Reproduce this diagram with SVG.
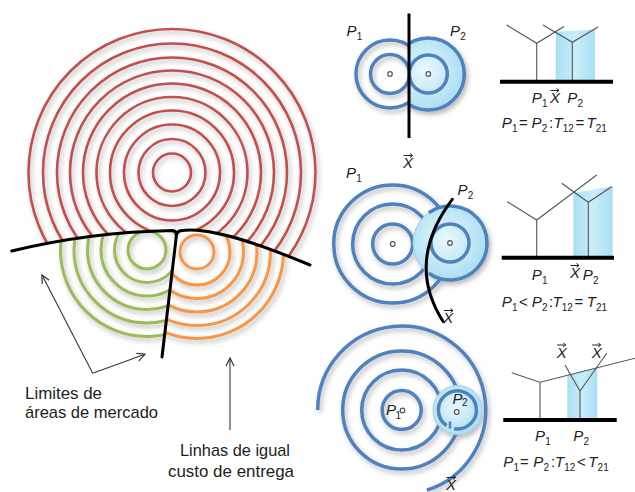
<svg xmlns="http://www.w3.org/2000/svg" width="635" height="492" viewBox="0 0 635 492">
<style>
.red{fill:none;stroke:#c0504d;stroke-width:2.6}
.grn{fill:none;stroke:#9bbb59;stroke-width:3}
.org{fill:none;stroke:#f79646;stroke-width:3}
.blu{fill:none;stroke:#4f81bd;stroke-width:3.5}
.bnd{fill:none;stroke:#000;stroke-width:3;stroke-linecap:round}
.thin{fill:none;stroke:#555;stroke-width:1.1}
.axis{stroke:#000;stroke-width:4}
.dot{fill:#fff;stroke:#555;stroke-width:1.2}
.lbl{font-family:"Liberation Sans",Arial,sans-serif;font-size:17px;fill:#222}
.m{font-family:"Liberation Sans",Arial,sans-serif;font-size:15px;font-style:italic;fill:#222}
.s{font-size:10px;font-style:normal}
.o{font-style:normal}
.xa{fill:none;stroke:#222;stroke-width:1}
.bfill{fill:url(#bandGrad)}
.conn{fill:none;stroke:#333;stroke-width:1.1}
</style>
<defs>
<filter id="sh" x="-20%" y="-20%" width="140%" height="140%">
<feDropShadow dx="2" dy="3" stdDeviation="2.5" flood-color="#000" flood-opacity="0.28"/>
</filter>
<radialGradient id="p2Grad" cx="0.45" cy="0.45" r="0.6">
<stop offset="0" stop-color="#eaf8fd"/>
<stop offset="1" stop-color="#a6dcf1"/>
</radialGradient>
<linearGradient id="bandGrad" x1="0" y1="0" x2="1" y2="0">
<stop offset="0" stop-color="#a9def3"/>
<stop offset="0.5" stop-color="#c9eefa"/>
<stop offset="1" stop-color="#a9def3"/>
</linearGradient>
<clipPath id="clipRed"><path d="M0,0 H330 V272 L310,265 C250,240 205,226 180,230.8 L173,230.5 Q90,232 11.7,251 L0,253 Z"/></clipPath>
<clipPath id="clipGreen"><path d="M0,251 L11.7,251 Q90,232 173,230.5 L176.5,232 L162,357 L160,500 L0,500 Z"/></clipPath>
<clipPath id="clipOrange"><path d="M176.5,232 L180,230.8 C205,226 250,240 310,265 L330,272 L330,500 L162,500 L162,357 Z"/></clipPath>
<clipPath id="clipL1"><rect x="300" y="0" width="109" height="150"/></clipPath>
<clipPath id="clipR1"><rect x="409" y="0" width="80" height="150"/></clipPath>
<marker id="open" viewBox="0 0 10 10" refX="9" refY="5" markerWidth="10" markerHeight="10" markerUnits="userSpaceOnUse" orient="auto">
<path d="M1,1 L9,5 L1,9" fill="none" stroke="#333" stroke-width="1.2"/>
</marker>
</defs>
<rect width="635" height="492" fill="#ffffff"/>

<!-- Left: market areas -->
<g id="red-area" clip-path="url(#clipRed)"><g filter="url(#sh)">
<circle class="red" cx="172" cy="172.5" r="19"/>
<circle class="red" cx="172" cy="172.5" r="33.5"/>
<circle class="red" cx="172" cy="172.5" r="48"/>
<circle class="red" cx="172" cy="172.5" r="62"/>
<circle class="red" cx="172" cy="172.5" r="75.5"/>
<circle class="red" cx="172" cy="172.5" r="89"/>
<circle class="red" cx="172" cy="172.5" r="102"/>
<circle class="red" cx="172" cy="172.5" r="115"/>
<circle class="red" cx="172" cy="172.5" r="129"/>
<circle class="red" cx="172" cy="172.5" r="143.5"/>
</g></g>
<g id="green-area" clip-path="url(#clipGreen)"><g filter="url(#sh)">
<circle class="grn" cx="147" cy="250" r="19"/>
<circle class="grn" cx="147" cy="250" r="32.5"/>
<circle class="grn" cx="147" cy="250" r="46"/>
<circle class="grn" cx="147" cy="250" r="59.5"/>
<circle class="grn" cx="147" cy="250" r="73"/>
<circle class="grn" cx="147" cy="250" r="86.5"/>
</g></g>
<g id="orange-area" clip-path="url(#clipOrange)"><g filter="url(#sh)">
<circle class="org" cx="197" cy="252" r="17"/>
<circle class="org" cx="197" cy="252" r="33"/>
<circle class="org" cx="197" cy="252" r="46.5"/>
<circle class="org" cx="197" cy="252" r="60"/>
<circle class="org" cx="197" cy="252" r="73.5"/>
<circle class="org" cx="197" cy="252" r="86.5"/>
</g></g>
<g id="boundaries">
<path class="bnd" d="M11.7,251 Q90,232 173,230.5 Q176.5,231 176.5,235 L162,357"/>
<path class="bnd" d="M310,265 C250,240 205,226 180.5,230.8 Q177.5,231.5 177,234"/>
</g>

<g id="connectors">
<path class="conn" d="M92.7,373.3 L42,275" marker-end="url(#open)"/>
<path class="conn" d="M92.7,373.3 L145,354.3" marker-end="url(#open)"/>
<path class="conn" d="M230,430 L230,358" marker-end="url(#open)"/>
</g>

<g id="label-limites">
<text class="lbl" x="25" y="399" textLength="77" lengthAdjust="spacingAndGlyphs">Limites de</text>
<text class="lbl" x="25" y="418" textLength="133" lengthAdjust="spacingAndGlyphs">áreas de mercado</text>
</g>
<g id="label-linhas">
<text class="lbl" x="180" y="456" textLength="110" lengthAdjust="spacingAndGlyphs">Linhas de igual</text>
<text class="lbl" x="168" y="477" textLength="126" lengthAdjust="spacingAndGlyphs">custo de entrega</text>
</g>

<!-- Panel 1 -->
<g id="panel1">
<g clip-path="url(#clipL1)"><g filter="url(#sh)">
<circle class="blu" cx="390" cy="74" r="34"/>
<circle class="blu" cx="390" cy="74" r="19.5"/>
</g></g>
<g clip-path="url(#clipR1)"><g filter="url(#sh)">
<circle cx="428.3" cy="74" r="36" fill="url(#p2Grad)" stroke="#4f81bd" stroke-width="3.5"/>
<circle class="blu" cx="428.3" cy="74" r="19"/>
</g></g>
<line x1="409" y1="13.5" x2="409" y2="138" stroke="#000" stroke-width="3"/>
<circle class="dot" cx="390" cy="74" r="2.3"/>
<circle class="dot" cx="428.3" cy="74" r="2.3"/>
<text class="m" x="346.5" y="36">P<tspan class="s" x="356.8" y="40">1</tspan></text>
<text class="m" x="450" y="36">P<tspan class="s" x="460.3" y="40">2</tspan></text>
</g>

<!-- Panel 2 -->
<g id="panel2">
<g filter="url(#sh)">
<circle class="blu" cx="392.7" cy="244" r="59"/>
<circle class="blu" cx="392.7" cy="244" r="40"/>
<circle class="blu" cx="392.7" cy="244" r="20"/>
<circle cx="450" cy="243" r="37" fill="url(#p2Grad)" stroke="#9fcfe6" stroke-width="1"/>
<path class="blu" d="M428.8,212.7 A37,37 0 1 1 428.8,273.3"/>
<circle class="blu" cx="450" cy="243" r="19"/>
</g>
<path class="bnd" d="M452.3,199.3 Q405,262 443.3,321.7" stroke-width="3.5"/>
<circle class="dot" cx="392.7" cy="244" r="2.3"/>
<circle class="dot" cx="450" cy="243" r="2.3"/>
<text class="m" x="346" y="178">P<tspan class="s" x="356.3" y="182">1</tspan></text>
<text class="m" x="457.5" y="195">P<tspan class="s" x="467.8" y="199">2</tspan></text>
<text class="m" x="403" y="168" font-size="14">X</text>
<path class="xa" d="M403.5,155.5 h9 m-2.5,-2 l2.5,2 l-2.5,2"/>
<text class="m" x="443.3" y="323" font-size="14">X</text>
<path class="xa" d="M444,310.5 h9 m-2.5,-2 l2.5,2 l-2.5,2"/>
</g>

<!-- Panel 3 -->
<g id="panel3">
<g filter="url(#sh)">
<path class="blu" d="M317.7,410 A84,84 0 1 1 426.8,490.2"/>
<circle class="blu" cx="401.7" cy="410" r="59"/>
<circle class="blu" cx="401.7" cy="410" r="40"/>
<circle class="blu" cx="401.7" cy="410" r="19.5"/>
<circle cx="457.5" cy="410" r="24.5" fill="url(#p2Grad)" stroke="#9fcfe6" stroke-width="1"/>
<path class="blu" d="M446.6,425.6 A19,19 0 1 1 454.2,428.7" stroke-width="3"/>
<path d="M450,421.5 L450,428.5" stroke="#4f81bd" stroke-width="2.5"/>
</g>
<circle class="dot" cx="402.5" cy="410.5" r="2.3"/>
<circle class="dot" cx="456.7" cy="412" r="2.3"/>
<text class="m" x="386" y="415" font-size="14">P<tspan class="s" x="395.6" y="418.5" font-size="9">1</tspan></text>
<text class="m" x="452.5" y="404" font-size="14">P<tspan class="s" x="462.1" y="406" font-size="9">2</tspan></text>
<text class="m" x="446" y="490" font-size="14">X</text>
<path class="xa" d="M446.5,477.5 h9 m-2.5,-2 l2.5,2 l-2.5,2"/>
</g>

<!-- Chart 1 -->
<g id="chart1">
<polygon class="bfill" points="555.7,81.7 555.7,31.7 595,29.5 595,81.7"/>
<path class="thin" d="M536.7,81.7 V43.3 M506.7,25 L536.7,43.3 L564,26.5"/>
<path class="thin" d="M572.3,81.7 V42.3 M543,25 L572.3,42.3 L598,27"/>
<line class="axis" x1="500" y1="81.7" x2="613" y2="81.7"/>
<text class="m" x="531.7" y="103">P<tspan class="s" x="542" y="106.5">1</tspan></text>
<text class="m" x="550" y="103" font-size="14">X</text>
<path class="xa" d="M550.5,90.5 h8.5 m-2.5,-2 l2.5,2 l-2.5,2"/>
<text class="m" x="567.3" y="103">P<tspan class="s" x="577.6" y="106.5">2</tspan></text>
<text class="m" y="128"><tspan x="501.7">P</tspan><tspan class="s" x="512" y="131.5">1</tspan><tspan class="o" x="519" y="128">=</tspan><tspan x="531.5">P</tspan><tspan class="s" x="541.8" y="131.5">2</tspan><tspan class="o" x="549" y="128">:</tspan><tspan x="553.5">T</tspan><tspan class="s" x="562.8" y="131.5">12</tspan><tspan class="o" x="575.5" y="128">=</tspan><tspan x="586.5">T</tspan><tspan class="s" x="595.8" y="131.5">21</tspan></text>
</g>

<!-- Chart 2 -->
<g id="chart2">
<polygon class="bfill" points="573.3,257.7 573.3,193 612.7,186.3 612.7,257.7"/>
<path class="thin" d="M536.7,257.7 V220 M507.3,201.7 L536.7,220 L596.7,175"/>
<path class="thin" d="M588.3,257.7 V202.3 M561.7,183.3 L588.3,202.3 L611.7,186.7"/>
<line class="axis" x1="501.7" y1="257.7" x2="614" y2="257.7"/>
<text class="m" x="531.7" y="280">P<tspan class="s" x="542" y="283.5">1</tspan></text>
<text class="m" x="570" y="278" font-size="14">X</text>
<path class="xa" d="M570.5,265.5 h8.5 m-2.5,-2 l2.5,2 l-2.5,2"/>
<text class="m" x="582.7" y="280">P<tspan class="s" x="593" y="283.5">2</tspan></text>
<text class="m" y="307"><tspan x="501.7">P</tspan><tspan class="s" x="512" y="310.5">1</tspan><tspan class="o" x="519" y="307">&lt;</tspan><tspan x="531.7">P</tspan><tspan class="s" x="542" y="310.5">2</tspan><tspan class="o" x="549" y="307">:</tspan><tspan x="552.5">T</tspan><tspan class="s" x="561.8" y="310.5">12</tspan><tspan class="o" x="574.5" y="307">=</tspan><tspan x="586.7">T</tspan><tspan class="s" x="596" y="310.5">21</tspan></text>
</g>

<!-- Chart 3 -->
<g id="chart3">
<polygon class="bfill" points="567.3,420 567.3,375.5 597.3,367.8 597.3,420"/>
<path class="thin" d="M540,420 V382.3 M511.7,372.7 L540,382.3 L635,358.3"/>
<path class="thin" d="M580,420 V391 M565,365 L580,391 L606.7,353.3"/>
<line class="axis" x1="503.3" y1="420" x2="616.7" y2="420"/>
<text class="m" x="556.7" y="358" font-size="14">X</text>
<path class="xa" d="M557.2,345 h8.5 m-2.5,-2 l2.5,2 l-2.5,2"/>
<text class="m" x="591.7" y="358" font-size="14">X</text>
<path class="xa" d="M592.2,345 h8.5 m-2.5,-2 l2.5,2 l-2.5,2"/>
<text class="m" x="535" y="441">P<tspan class="s" x="545.3" y="444.5">1</tspan></text>
<text class="m" x="573.3" y="441">P<tspan class="s" x="583.6" y="444.5">2</tspan></text>
<text class="m" y="467"><tspan x="503.3">P</tspan><tspan class="s" x="513.6" y="470.5">1</tspan><tspan class="o" x="520" y="467">=</tspan><tspan x="533.3">P</tspan><tspan class="s" x="543.6" y="470.5">2</tspan><tspan class="o" x="551" y="467">:</tspan><tspan x="555">T</tspan><tspan class="s" x="564.3" y="470.5">12</tspan><tspan class="o" x="577" y="467">&lt;</tspan><tspan x="588.3">T</tspan><tspan class="s" x="597.6" y="470.5">21</tspan></text>
</g>
</svg>
